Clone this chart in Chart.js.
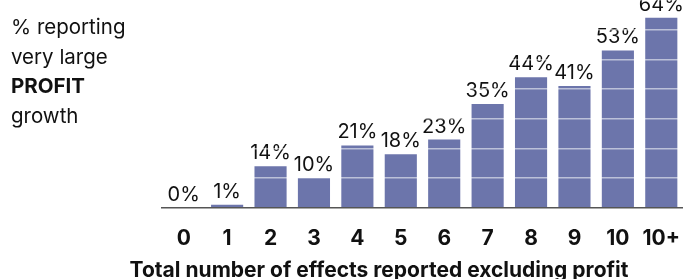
<!DOCTYPE html>
<html>
<head>
<meta charset="utf-8">
<script src="https://cdn.jsdelivr.net/npm/chart.js@4"></script>
<style>
  body { margin: 0; background: #fff; }
  #wrap { width: 683px; height: 279px; position: relative; }
</style>
</head>
<body>
<div id="wrap"><canvas id="chart-1"></canvas></div>
<script>
const categories = ["0", "1", "2", "3", "4", "5", "6", "7", "8", "9", "10", "10+"];
const profitGrowth = [0, 1, 14, 10, 21, 18, 23, 35, 44, 41, 53, 64];
const sideLabel = ["% reporting", "very large", "PROFIT", "growth"];
const axisTitle = "Total number of effects reported excluding profit";

const FONT = "Inter, 'Noto Sans', sans-serif";

// value labels over bars + left caption + bottom title
const textPlugin = {
  id: "texts",
  afterDatasetsDraw(chart) {
    const ctx = chart.ctx;
    const meta = chart.getDatasetMeta(0);
    ctx.save();
    ctx.fillStyle = "#111";
    ctx.font = "20px " + FONT;
    ctx.textAlign = "center";
    ctx.textBaseline = "alphabetic";
    meta.data.forEach((bar, i) => {
      ctx.fillText(profitGrowth[i] + "%", bar.x, bar.y - 7);
    });

    ctx.textAlign = "left";
    ctx.textBaseline = "middle";
    sideLabel.forEach((t, i) => {
      ctx.font = (t === "PROFIT" ? "bold " : "") + "20.5px " + FONT;
      ctx.fillText(t, 11, 28 + i * 29.5);
    });

    ctx.textAlign = "center";
    ctx.textBaseline = "alphabetic";
    ctx.font = "bold 21px " + FONT;
    ctx.fillText(axisTitle, 379, 277);
    ctx.restore();
  }
};

const ctx1 = document.getElementById("chart-1").getContext("2d");
const myChart = new Chart(ctx1, {
  type: "bar",
  data: {
    labels: categories,
    datasets: [{
      data: profitGrowth,
      backgroundColor: "#6c75ab",
      barPercentage: 0.74,
      categoryPercentage: 1.0
    }]
  },
  options: {
    responsive: true,
    maintainAspectRatio: false,
    animation: false,
    layout: { padding: { left: 162, right: 0, top: 0, bottom: 26 } },
    plugins: {
      legend: { display: false },
      tooltip: { enabled: false }
    },
    scales: {
      x: {
        grid: {
          display: true,
          drawOnChartArea: false,
          drawTicks: true,
          tickLength: 16,
          color: "rgba(0,0,0,0)"
        },
        border: { display: true, color: "#555", width: 1.5 },
        ticks: {
          padding: 2,
          maxRotation: 0,
          minRotation: 0,
          autoSkip: false,
          color: "#111",
          font: { family: FONT, size: 21, weight: "bold" }
        }
      },
      y: {
        min: 0,
        max: 70,
        ticks: { display: false, stepSize: 10 },
        border: { display: false },
        grid: {
          z: 1,
          drawTicks: false,
          lineWidth: 1.5,
          color: (c) => c.tick && c.tick.value === 0 ? "rgba(0,0,0,0)" : "rgba(255,255,255,0.55)"
        }
      }
    }
  },
  plugins: [textPlugin]
});
</script>
</body>
</html>
